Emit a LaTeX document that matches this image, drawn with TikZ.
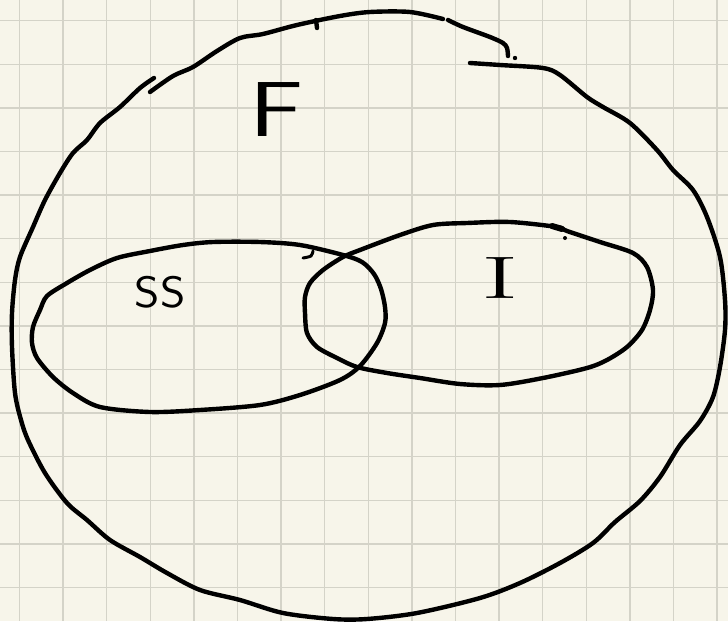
\documentclass[tikz,border=0pt]{standalone}
\usepackage{fontspec}
\definecolor{paper}{RGB}{247,245,234}
\definecolor{gridc}{RGB}{212,211,200}
\begin{document}
\begin{tikzpicture}[x=1pt,y=-1pt,
  pen/.style={line width=4.4pt, line cap=round, line join=round, black},
  gridline/.style={gridc, line width=1.3pt},
  label/.style={inner sep=0pt, text=black}]
\fill[paper] (0,0) rectangle (728,621);
\useasboundingbox (0,0) rectangle (728,621);
\begin{scope}
\clip (0,0) rectangle (728,621);
\foreach \i in {0,...,16} \draw[gridline] ({19.5+43.6*\i},0) -- ({19.5+43.6*\i},621);
\foreach \j in {0,...,14} \draw[gridline] (0,{20.7+43.6*\j}) -- (728,{20.7+43.6*\j});

% outer set F: long stroke
\draw[pen] plot[smooth] coordinates {(154,78) (140,88) (120,107) (100,123) (87,140) (73,153) (60,173) (45,200) (33,227) (20,257) (15,280) (12,313) (12,347) (15,393) (21,420) (28,440) (45,473) (67,503) (87,520) (110,540) (140,557) (167,573) (200,590) (240,600) (283,613) (333,619) (367,619) (417,613) (480,598) (520,583) (560,563) (593,543) (615,522) (640,501) (660,477) (680,445) (700,421) (713,397) (720,367) (725,330) (725,300) (720,257) (707,217) (693,190) (673,170) (657,150) (630,123) (603,107) (587,97) (560,75) (543,68) (500,65) (470,63)};
% top stroke
\draw[pen] plot[smooth] coordinates {(150,92) (173,76) (193,67) (217,51) (240,38) (263,34) (297,25) (340,16) (370,12) (410,12) (443,19)};
\draw[pen] (316,20) -- (317,28);
\draw[pen] plot[smooth] coordinates {(448,20) (463,27) (490,37) (503,43) (507,48) (508,56)};
\fill (515,58) circle (2.2pt);

% SS set
\draw[pen] plot[smooth cycle] coordinates {(260,242) (300,245) (343,255) (362,262) (374,274) (381,289) (385,307) (385,323) (377,343) (360,366) (340,380) (300,395) (260,405) (200,410) (150,412) (100,407) (73,393) (53,377) (37,358) (32,343) (33,327) (40,310) (47,296) (67,283) (90,270) (117,258) (150,251) (183,245) (213,242)};
\draw[pen, line width=3pt] plot[smooth] coordinates {(303,258) (311,256) (313,251)};

% I set
\draw[pen] plot[smooth cycle] coordinates {(557,227) (510,222) (467,223) (433,225) (400,235) (360,250) (343,257) (323,270) (310,283) (305,297) (305,313) (307,333) (317,347) (337,358) (357,367) (387,373) (420,378) (460,384) (500,385) (543,378) (587,368) (607,360) (627,347) (642,330) (650,310) (653,290) (647,267) (633,253) (600,242) (567,231)};
\draw[pen, line width=6pt] (552,226) -- (562,229);
\fill (565,238) circle (2pt);
\end{scope}

\node[label, font=\sffamily\fontsize{78}{78}\selectfont] (F) at (277,110) {\scalebox{1.3}[1]{F}};
\node[label, font=\sffamily\fontsize{44}{44}\selectfont] (SS) at (160,292) {\scalebox{1.1}[1]{SS}};
\node[label, font=\fontsize{60}{60}\selectfont] (I) at (500,278) {\scalebox{1.9}[1]{I}};
\end{tikzpicture}
\end{document}
